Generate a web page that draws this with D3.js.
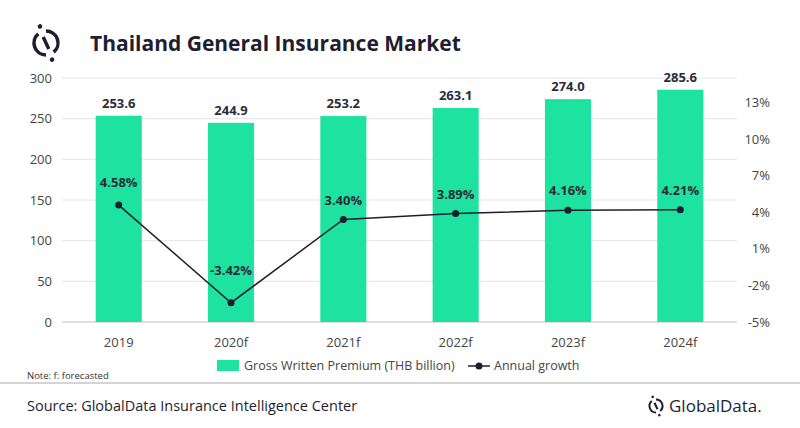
<!DOCTYPE html>
<html><head><meta charset="utf-8">
<script src="https://cdn.jsdelivr.net/npm/d3@7"></script>
<style>body{margin:0;background:#fff}text{font-family:"Open Sans",sans-serif}</style>
</head><body><svg id="c" width="800" height="428"></svg>
<script>
const years = ["2019","2020f","2021f","2022f","2023f","2024f"];
const gwp = [253.6, 244.9, 253.2, 263.1, 274.0, 285.6];
const growth = [4.58, -3.42, 3.40, 3.89, 4.16, 4.21];
const leftTicks = [0,50,100,150,200,250,300];
const rightTicks = [-5,-2,1,4,7,10,13];
const labelLift = [18, 28, 15, 15, 15, 15];

const svg = d3.select("#c");
const x = d3.scaleBand().domain(years).range([62, 737]).paddingInner(0.59).paddingOuter(0.3);
const y = d3.scaleLinear().domain([0,300]).range([322,78]);
const y2 = d3.scaleLinear().domain([-5,15]).range([322,78]);
const ink = "#2b2b3a";

function logo(cx, cy, r, sw, dot) {
  const g = svg.append("g").attr("transform",`translate(${cx},${cy}) rotate(-20)`);
  const a = d3.arc().innerRadius(r - sw/2).outerRadius(r + sw/2);
  g.append("path").attr("d", a({startAngle: 0.35, endAngle: Math.PI - 0.35})).attr("fill","#1e1e30");
  g.append("path").attr("d", a({startAngle: Math.PI + 0.35, endAngle: 2*Math.PI - 0.35})).attr("fill","#1e1e30");
  g.append("line").attr("x1",0).attr("y1",-r*0.55).attr("x2",0).attr("y2",r*0.55)
    .attr("stroke","#1e1e30").attr("stroke-width",sw).attr("transform","rotate(-5)");
  g.append("circle").attr("cx",0).attr("cy",-r-sw*1.6).attr("r",dot).attr("fill","#1e1e30");
  g.append("circle").attr("cx",0).attr("cy",r+sw*1.6).attr("r",dot).attr("fill","#1e1e30");
}
logo(46, 43, 12, 3.5, 2.3);
svg.append("text").attr("x",90).attr("y",51).text("Thailand General Insurance Market")
  .attr("font-size",21).attr("font-weight","bold").attr("fill","#1e1e30");

// grid
svg.append("g").selectAll("line").data(leftTicks).join("line")
  .attr("x1",62).attr("x2",737).attr("y1",d=>y(d)).attr("y2",d=>y(d))
  .attr("stroke",d=>d===0?"#bfbfbf":"#e4e4e4");

svg.append("g").attr("transform","translate(52,0)")
  .call(d3.axisLeft(y).tickValues(leftTicks).tickSize(0).tickPadding(0))
  .call(g=>g.select(".domain").remove())
  .selectAll("text").attr("font-size",13).attr("fill","#444").attr("font-family","Open Sans");
svg.append("g").attr("transform","translate(770,0)")
  .call(d3.axisLeft(y2).tickValues(rightTicks).tickSize(0).tickPadding(0).tickFormat(d=>d+"%"))
  .call(g=>g.select(".domain").remove())
  .selectAll("text").attr("font-size",13).attr("fill","#444").attr("font-family","Open Sans");
svg.append("g").attr("transform","translate(0,322)")
  .call(d3.axisBottom(x).tickSize(0).tickPadding(16))
  .call(g=>g.select(".domain").remove())
  .selectAll("text").attr("font-size",13).attr("fill","#444").attr("font-family","Open Sans");

// bars
svg.append("g").selectAll("rect").data(gwp).join("rect")
  .attr("x",(d,i)=>x(years[i])).attr("width",x.bandwidth())
  .attr("y",d=>y(d)).attr("height",d=>322-y(d)).attr("fill","#1ee3a0");
svg.append("g").selectAll("text").data(gwp).join("text")
  .attr("x",(d,i)=>x(years[i])+x.bandwidth()/2).attr("y",d=>y(d)-8)
  .attr("text-anchor","middle").attr("font-size",13).attr("font-weight","bold").attr("fill",ink)
  .text(d=>d.toFixed(1));

// line
const cx = i=>x(years[i])+x.bandwidth()/2;
svg.append("path").datum(growth)
  .attr("d",d3.line().x((d,i)=>cx(i)).y(d=>y2(d)))
  .attr("fill","none").attr("stroke","#1e1e30").attr("stroke-width",1.5);
svg.append("g").selectAll("circle").data(growth).join("circle")
  .attr("cx",(d,i)=>cx(i)).attr("cy",d=>y2(d)).attr("r",3.5).attr("fill","#1e1e30");
svg.append("g").selectAll("text").data(growth).join("text")
  .attr("x",(d,i)=>cx(i)).attr("y",(d,i)=>y2(d)-labelLift[i])
  .attr("text-anchor","middle").attr("font-size",13).attr("font-weight","bold").attr("fill",ink)
  .text(d=>d.toFixed(2)+"%");

// legend
svg.append("rect").attr("x",217).attr("y",360).attr("width",22).attr("height",11).attr("fill","#1ee3a0");
svg.append("text").attr("x",244).attr("y",370).text("Gross Written Premium (THB billion)").attr("font-size",12.5).attr("fill","#444");
svg.append("line").attr("x1",468).attr("x2",490).attr("y1",366).attr("y2",366).attr("stroke","#1e1e30").attr("stroke-width",1.5);
svg.append("circle").attr("cx",479).attr("cy",366).attr("r",3.5).attr("fill","#1e1e30");
svg.append("text").attr("x",494).attr("y",370).text("Annual growth").attr("font-size",12.5).attr("fill","#444");

svg.append("text").attr("x",27).attr("y",379).text("Note: f: forecasted").attr("font-size",9.5).attr("fill","#333");
svg.append("line").attr("x1",0).attr("x2",800).attr("y1",383).attr("y2",383).attr("stroke","#aaa").attr("stroke-width",1.2);
svg.append("text").attr("x",27).attr("y",411).text("Source: GlobalData Insurance Intelligence Center").attr("font-size",14.5).attr("fill","#1e1e30");

logo(656, 406, 6.5, 2, 1.3);
svg.append("text").attr("x",669).attr("y",412).text("GlobalData.").attr("font-size",17).attr("fill","#1e1e30");
</script></body></html>
